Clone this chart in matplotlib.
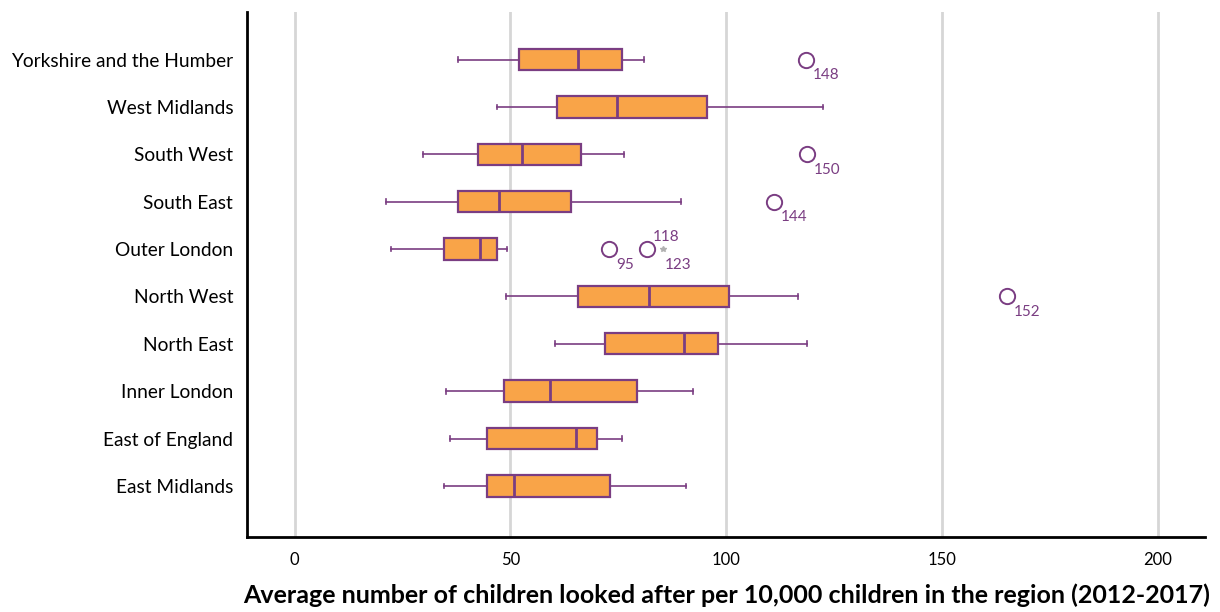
import matplotlib.pyplot as plt

plt.rcParams['font.family'] = ['Lato', 'DejaVu Sans']

regions = ['East Midlands', 'East of England', 'Inner London', 'North East',
           'North West', 'Outer London', 'South East', 'South West',
           'West Midlands', 'Yorkshire and the Humber']
whislo = [34.7, 35.9, 35.0, 60.3, 49.1, 22.4, 21.3, 29.8, 46.9, 37.8]
q1 = [44.7, 44.7, 48.5, 72.0, 65.6, 34.7, 37.8, 42.6, 60.9, 52.0]
med = [50.8, 65.2, 59.2, 90.2, 82.0, 42.9, 47.4, 52.8, 74.6, 65.7]
q3 = [73.0, 70.0, 79.3, 98.1, 100.7, 47.0, 64.0, 66.4, 95.6, 75.8]
whishi = [90.8, 75.9, 92.4, 118.7, 116.6, 49.2, 89.5, 76.3, 122.4, 81.0]

# outliers: (region, value, case label, offset of label in points)
outliers = [('Yorkshire and the Humber', 118.4, '148', (5, -14)),
            ('South West', 118.7, '150', (5, -14)),
            ('South East', 111.0, '144', (5, -14)),
            ('Outer London', 72.9, '95', (5, -14)),
            ('Outer London', 81.7, '118', (4, 6)),
            ('North West', 165.0, '152', (5, -14))]
extremes = [('Outer London', 85.4, '123', (1, -14))]

purple = '#7a3d82'
orange = '#f9a448'

stats = []
for i, r in enumerate(regions):
    stats.append(dict(label=r, whislo=whislo[i], q1=q1[i], med=med[i],
                      q3=q3[i], whishi=whishi[i], fliers=[]))

fig = plt.figure(figsize=(12.2, 6.12), dpi=100)
ax = fig.add_axes([0.2025, 0.1225, 0.7855, 0.8575])

pos = list(range(len(regions)))
ax.bxp(stats, positions=pos, vert=False, widths=0.45, capwidths=0.1,
       patch_artist=True, showfliers=False,
       boxprops=dict(facecolor=orange, edgecolor=purple, linewidth=1.6),
       medianprops=dict(color=purple, linewidth=2),
       whiskerprops=dict(color=purple, linewidth=1.2),
       capprops=dict(color=purple, linewidth=1.2))

for r, v, lab, off in outliers:
    y = regions.index(r)
    ax.plot(v, y, 'o', ms=11, mfc='white', mec=purple, mew=1.4, zorder=3)
    ax.annotate(lab, (v, y), xytext=off, textcoords='offset points',
                color=purple, fontsize=11)
for r, v, lab, off in extremes:
    y = regions.index(r)
    ax.plot(v, y, marker='*', ms=4, color='#b0b0b0', ls='none', zorder=3)
    ax.annotate(lab, (v, y), xytext=off, textcoords='offset points',
                color=purple, fontsize=11)

ax.set_xlim(-11, 211)
ax.set_ylim(-1.08, 10.0)
ax.set_xticks([0, 50, 100, 150, 200])
ax.set_yticks(pos)
ax.set_yticklabels(regions, fontsize=13.8)
ax.tick_params(axis='x', labelsize=12, length=0, pad=11)
ax.tick_params(axis='y', length=0, pad=10)
ax.grid(axis='x', color='#d6d6d6', linewidth=2)
ax.set_axisbelow(True)
for s in ['top', 'right']:
    ax.spines[s].set_visible(False)
for s in ['left', 'bottom']:
    ax.spines[s].set_linewidth(2)
ax.set_xlabel('Average number of children looked after per 10,000 children in the region (2012-2017)',
              fontsize=18, fontweight='bold')
ax.xaxis.set_label_coords(0.5, -0.088, transform=ax.transAxes)

fig.savefig('out.png', dpi=100)
